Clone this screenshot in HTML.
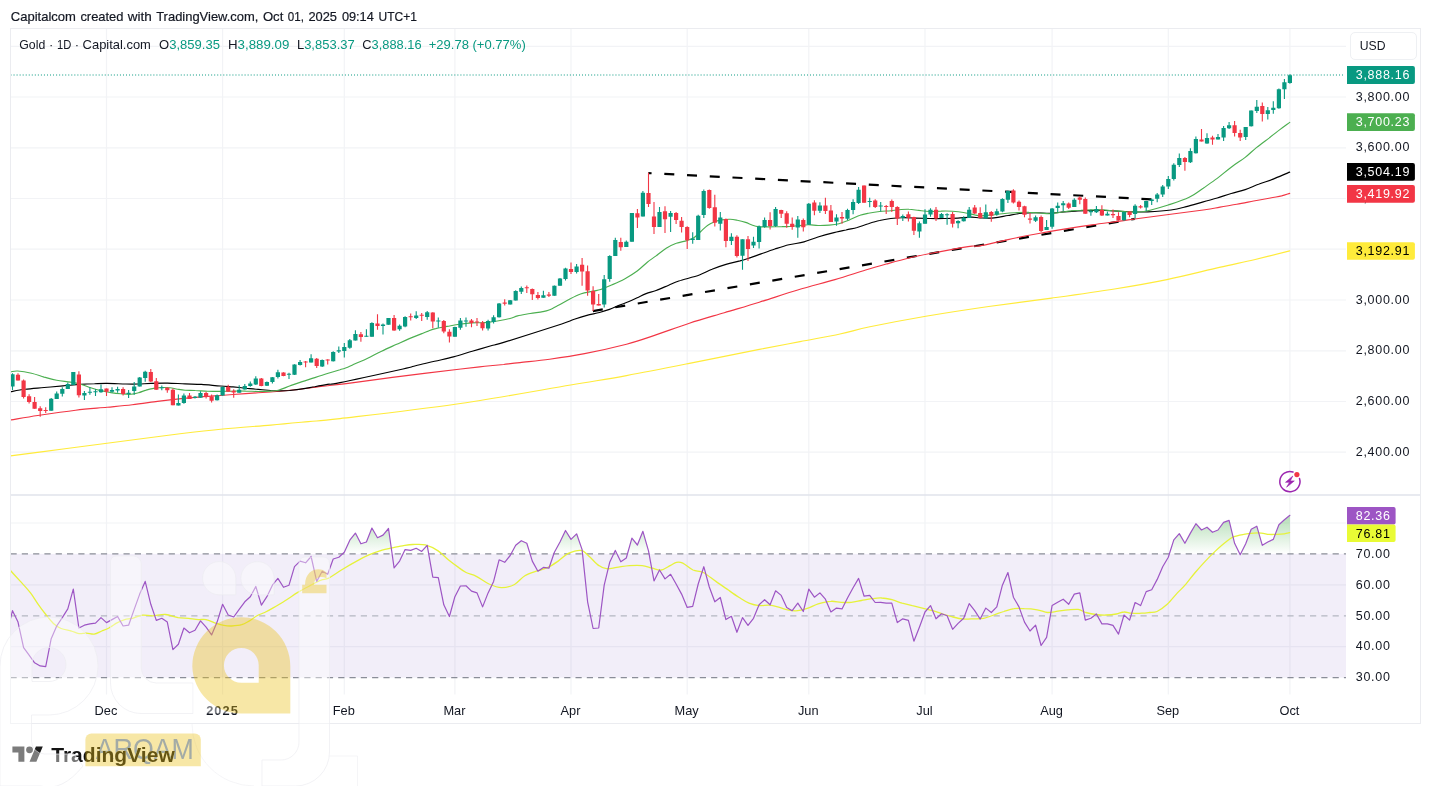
<!DOCTYPE html>
<html lang="en"><head><meta charset="utf-8"><title>Gold 1D - TradingView</title>
<style>html,body{margin:0;padding:0;background:#fff}body{width:1431px;height:786px;overflow:hidden;font-family:"Liberation Sans", Arial, Helvetica, sans-serif}svg{display:block}text{font-family:"Liberation Sans", Arial, Helvetica, sans-serif}</style>
</head><body>
<svg width="1431" height="786" viewBox="0 0 1431 786">
<defs>
<linearGradient id="ob" gradientUnits="userSpaceOnUse" x1="0" y1="461.1" x2="0" y2="553.9"><stop offset="0" stop-color="#4caf50" stop-opacity="1"/><stop offset="1" stop-color="#4caf50" stop-opacity="0"/></linearGradient>
<clipPath id="cpm"><rect x="10.5" y="28.5" width="1335.5" height="466.5"/></clipPath>
<clipPath id="cpr"><rect x="10.5" y="495.0" width="1335.5" height="200"/></clipPath>
<clipPath id="cp70"><rect x="10.5" y="495.0" width="1335.5" height="58.89999999999998"/></clipPath>
</defs>
<rect width="1431" height="786" fill="#fff"/>
<text y="21.2" font-size="13" fill="#131722" stroke="#131722" stroke-width="0.2"><tspan x="10.8" textLength="65.1" lengthAdjust="spacingAndGlyphs">Capitalcom</tspan> <tspan x="80.4" textLength="43.1" lengthAdjust="spacingAndGlyphs">created</tspan> <tspan x="127.7" textLength="24.0" lengthAdjust="spacingAndGlyphs">with</tspan> <tspan x="156.2" textLength="102.2" lengthAdjust="spacingAndGlyphs">TradingView.com,</tspan> <tspan x="262.9" textLength="20.4" lengthAdjust="spacingAndGlyphs">Oct</tspan> <tspan x="287.8" textLength="16.1" lengthAdjust="spacingAndGlyphs">01,</tspan> <tspan x="308.4" textLength="28.6" lengthAdjust="spacingAndGlyphs">2025</tspan> <tspan x="341.9" textLength="31.9" lengthAdjust="spacingAndGlyphs">09:14</tspan> <tspan x="378.6" textLength="38.4" lengthAdjust="spacingAndGlyphs">UTC+1</tspan></text>
<g stroke="#f2f3f6" stroke-width="1.2">
<line x1="10.5" y1="46.3" x2="1346.0" y2="46.3"/>
<line x1="10.5" y1="97" x2="1346.0" y2="97"/>
<line x1="10.5" y1="147.8" x2="1346.0" y2="147.8"/>
<line x1="10.5" y1="198.5" x2="1346.0" y2="198.5"/>
<line x1="10.5" y1="249.2" x2="1346.0" y2="249.2"/>
<line x1="10.5" y1="300" x2="1346.0" y2="300"/>
<line x1="10.5" y1="350.8" x2="1346.0" y2="350.8"/>
<line x1="10.5" y1="401.5" x2="1346.0" y2="401.5"/>
<line x1="10.5" y1="452.2" x2="1346.0" y2="452.2"/>
<line x1="10.5" y1="523" x2="1346.0" y2="523"/>
<line x1="10.5" y1="584.8" x2="1346.0" y2="584.8"/>
<line x1="10.5" y1="646.7" x2="1346.0" y2="646.7"/>
<line x1="106.5" y1="28.5" x2="106.5" y2="694.5"/>
<line x1="222.6" y1="28.5" x2="222.6" y2="694.5"/>
<line x1="344.3" y1="28.5" x2="344.3" y2="694.5"/>
<line x1="454.9" y1="28.5" x2="454.9" y2="694.5"/>
<line x1="571" y1="28.5" x2="571" y2="694.5"/>
<line x1="687.2" y1="28.5" x2="687.2" y2="694.5"/>
<line x1="808.8" y1="28.5" x2="808.8" y2="694.5"/>
<line x1="925" y1="28.5" x2="925" y2="694.5"/>
<line x1="1052.1" y1="28.5" x2="1052.1" y2="694.5"/>
<line x1="1168.3" y1="28.5" x2="1168.3" y2="694.5"/>
<line x1="1289.9" y1="28.5" x2="1289.9" y2="694.5"/>
</g>
<rect x="10.5" y="553.9" width="1335.5" height="123.7" fill="#7e57c2" fill-opacity="0.1"/>
<line x1="10.5" y1="553.9" x2="1346.0" y2="553.9" stroke="#8a8d98" stroke-width="1.3" stroke-dasharray="6.2 5.1"/>
<line x1="10.5" y1="615.8" x2="1346.0" y2="615.8" stroke="#b4b7c1" stroke-width="1.3" stroke-dasharray="6.2 5.1"/>
<line x1="10.5" y1="677.6" x2="1346.0" y2="677.6" stroke="#8a8d98" stroke-width="1.3" stroke-dasharray="6.2 5.1"/>
<g stroke="#000" stroke-width="2.2" fill="none" stroke-dasharray="10 12.75">
<line x1="1151.4" y1="199.3" x2="648.3" y2="173.1"/>
<line x1="592.9" y1="311.1" x2="1134.7" y2="218.9"/>
</g>
<g fill="none" stroke-width="1.15" stroke-linejoin="round" stroke-linecap="round" clip-path="url(#cpm)">
<path d="M10.5 455.9 C19.2 454.8 46.9 451.1 63 449 C79.1 446.9 87.5 445.7 107 443.2 C126.5 440.7 160.7 436.2 180 433.8 C199.3 431.4 207.8 430.4 222.9 429 C238 427.6 256.5 426.3 270.8 425.1 C285.1 423.9 297 422.7 308.5 421.6 C320 420.5 315.5 421.5 340 418.6 C364.5 415.7 416.9 409.9 455.3 404.3 C493.7 398.7 542.1 389.8 570.6 385 C599.1 380.2 606.7 379.2 626.5 375.6 C646.3 372 667.3 367.8 689.4 363.4 C711.5 359 740.9 353 759.3 349.4 C777.7 345.8 786.5 344.2 800 341.6 C813.5 339 828.4 336.5 840 334 C851.6 331.5 855.6 329.8 869.9 326.8 C884.2 323.9 906 319.7 925.8 316.3 C945.6 312.9 967.7 309.5 988.7 306.5 C1009.7 303.5 1030.6 301 1051.6 298.1 C1072.6 295.2 1095.3 292.1 1114.5 289 C1133.7 285.9 1149.4 283.2 1166.9 279.6 C1184.4 276 1204.8 270.7 1219.3 267.4 C1233.8 264.1 1242.5 262.4 1254.2 259.7 C1265.9 256.9 1283.8 252.4 1289.7 250.9" stroke="#ffeb3b"/>
<path d="M11.1 419.9 C15.5 419.2 27 417.1 37.8 415.5 C48.5 413.9 64 411.6 75.6 410.2 C87.1 408.8 97.6 408.2 107.1 407.3 C116.5 406.4 123.8 405.8 132.2 404.8 C140.6 403.8 151.1 402.2 157.4 401.4 C163.7 400.6 163.7 400.6 170 399.9 C176.3 399.2 186.8 398.1 195.2 397.4 C203.6 396.6 212 396.1 220.4 395.5 C228.8 394.9 237.2 394.2 245.6 393.6 C254 393 262.4 392.6 270.8 392 C279.2 391.3 287.5 390.7 295.9 389.8 C304.3 388.9 312.1 387.5 321.1 386.4 C330.1 385.3 338.1 384.7 350 383.1 C361.9 381.6 373.9 379.8 392.4 377.4 C410.9 375 445.5 370.8 460.9 369 C476.3 367.2 477.7 367.1 484.8 366.3 C492 365.6 497.9 365.1 503.7 364.5 C509.6 363.8 512.3 363.4 520 362.6 C527.6 361.7 538.8 360.7 549.6 359.2 C560.4 357.7 571.8 356.1 584.6 353.6 C597.4 351.1 614.9 347.2 626.5 344.2 C638.1 341.2 644 338.9 654.5 335.4 C665 331.9 677.8 327 689.4 323.2 C701 319.4 712.6 316.2 724.3 312.7 C735.9 309.2 747.1 306 759.3 302.2 C771.5 298.4 785.1 293.8 797.7 290 C810.3 286.2 823.6 282.9 834.9 279.6 C846.2 276.3 856.7 272.7 865.6 270 C874.4 267.3 880.7 265.6 888 263.6 C895.2 261.6 902 259.7 909 258 C916 256.3 923 254.9 930 253.5 C937 252.1 944 250.8 951 249.6 C957.9 248.3 967.1 246.7 971.9 246.1 C976.8 245.5 974 247 980 245.9 C986 244.8 998.7 241.6 1008 239.6 C1017.3 237.6 1026.7 235.7 1036 234 C1045.3 232.2 1054.6 230.6 1064 229.1 C1073.3 227.6 1082.6 226.2 1092 224.9 C1101.3 223.5 1110.6 222.4 1120 221.1 C1129.3 219.8 1134.1 219 1147.9 217.2 C1161.8 215.3 1191.2 211.7 1203.2 210 C1215.2 208.3 1214.4 208 1220 207.1 C1225.6 206.1 1231.2 205.3 1236.8 204.3 C1242.4 203.3 1248 202.1 1253.6 201 C1259.2 200 1265.7 198.8 1270.4 198 C1275 197.1 1278.3 196.6 1281.6 195.9 C1284.8 195.1 1288.3 193.8 1289.7 193.4" stroke="#f23645"/>
<path d="M11.1 391.6 C13.4 391.2 19.7 390 25.2 389.3 C30.7 388.6 37.8 388.1 44.1 387.5 C50.4 387 56.9 386.4 63 385.9 C69.1 385.4 75.4 384.7 80.6 384.4 C85.9 384 90.1 383.9 94.5 383.8 C98.9 383.6 101.8 383.3 107.1 383.4 C112.3 383.4 120.7 383.9 125.9 384 C131.2 384.1 134.3 384.1 138.5 384 C142.7 383.9 146.3 383.5 151.1 383.4 C156 383.2 161.8 383 167.5 383.1 C173.2 383.2 179.5 383.7 185.1 383.9 C190.8 384.1 195.6 384.1 201.5 384.4 C207.4 384.8 215.1 385.6 220.4 386 C225.6 386.5 228.8 386.6 233 386.9 C237.2 387.3 241.4 387.8 245.6 388.2 C249.8 388.6 254 389.1 258.2 389.4 C262.4 389.8 267.2 390.2 270.8 390.5 C274.3 390.7 276.4 390.8 279.6 390.8 C282.7 390.8 285.9 390.8 289.6 390.5 C293.4 390.1 298 389.6 302.2 388.9 C306.4 388.3 310.6 387.4 314.8 386.7 C319 385.9 323.2 385.1 327.4 384.4 C331.6 383.7 327.4 385.2 340 382.6 C352.6 380.1 390.4 371.8 403 369 C415.6 366.2 410.3 367 415.6 365.7 C420.8 364.4 428.2 362.8 434.5 361.3 C440.8 359.8 447.1 358.6 453.4 356.9 C459.6 355.2 465.9 353.1 472.2 351.2 C478.5 349.4 485.9 347.3 491.1 345.8 C496.4 344.3 492 346.1 503.7 342.4 C515.5 338.8 549.9 327.9 561.7 324 C573.4 320.1 570.1 320.6 574.3 319.2 C578.5 317.8 582.7 316.5 586.9 315.4 C591.1 314.3 595.7 313.5 599.5 312.5 C603.2 311.5 606.4 310.5 609.5 309.4 C612.7 308.2 615.2 306.9 618.4 305.6 C621.5 304.3 625.3 303.1 628.4 301.8 C631.6 300.5 634.3 299.2 637.2 297.8 C640.2 296.4 642.9 294.9 646.1 293.6 C649.2 292.4 652.4 291.9 656.1 290.5 C659.9 289.1 664.9 286.8 668.7 285.2 C672.5 283.6 673.7 282.7 678.8 281 C683.9 279.3 693.8 277 699.4 275 C704.9 273 707.5 271 712 269.3 C716.4 267.5 721.3 265.8 726 264.4 C730.6 263 735.8 262 740 260.9 C744.2 259.7 747.7 258.5 751.2 257.4 C754.7 256.2 757 255.3 761 253.9 C764.9 252.5 770.3 250.5 774.9 249 C779.6 247.5 784.1 246 788.9 244.8 C793.8 243.6 799.2 243.2 804 241.9 C808.8 240.6 813.3 238.4 818 237 C822.7 235.5 827.3 234.2 832 233.1 C836.7 231.9 841.8 230.9 846 230 C850.2 229 853.4 228.5 857.2 227.5 C860.9 226.4 864.6 224.8 868.4 223.7 C872.1 222.5 875.8 221.3 879.6 220.5 C883.3 219.6 887 219 890.8 218.5 C894.5 218 897.8 217.7 902 217.7 C906.2 217.6 911.3 217.9 916 218.1 C920.6 218.2 925.3 218.4 930 218.5 C934.6 218.6 939.3 218.6 944 218.5 C948.6 218.4 953.3 218.3 957.9 218.1 C962.6 217.8 968.3 217.1 971.9 217.1 C975.6 217.1 976.3 217.8 980 217.9 C983.7 218 989.3 218.3 994 217.9 C998.7 217.5 1003.3 216.3 1008 215.5 C1012.7 214.7 1017.3 213.7 1022 213.3 C1026.7 212.8 1031.3 212.7 1036 212.7 C1040.6 212.7 1045.3 213.4 1050 213.3 C1054.6 213.1 1059.3 212.3 1064 211.9 C1068.6 211.5 1073.3 211.1 1078 210.9 C1082.6 210.6 1087.3 210.5 1092 210.5 C1096.6 210.4 1101.3 210.3 1106 210.5 C1110.6 210.6 1115.3 211.1 1120 211.3 C1124.6 211.5 1129.3 211.8 1134 211.9 C1138.6 212 1141.8 212.2 1147.9 211.9 C1154.1 211.6 1164.6 210.9 1171 210 C1177.4 209.1 1181 208 1186.4 206.6 C1191.8 205.3 1198.1 203.3 1203.2 201.9 C1208.3 200.4 1212.5 199.4 1217.2 198 C1221.8 196.6 1226.5 194.9 1231.2 193.5 C1235.8 192.1 1240.5 191.2 1245.2 189.6 C1249.8 188 1254.5 185.7 1259.2 184 C1263.8 182.2 1268.1 181.1 1273.2 179.1 C1278.2 177.1 1286.9 173.2 1289.7 172.1" stroke="#000000"/>
<path d="M11.1 371.7 C12.2 371.6 14.2 370.8 17.6 371 C21 371.3 27.1 372.3 31.5 373.3 C35.9 374.3 39.9 375.9 44.1 377.1 C48.3 378.2 52.3 379.4 56.7 380.2 C61.1 381.1 66.5 381.4 70.5 382.1 C74.5 382.8 77.2 383.3 80.6 384.3 C84 385.2 87.3 386.7 90.7 387.8 C94 388.8 97.4 389.8 100.8 390.6 C104.1 391.4 107.5 392 110.8 392.6 C114.2 393.1 117.5 393.5 120.9 393.8 C124.3 394.1 128 394.5 131 394.3 C133.9 394.2 136 393.5 138.5 392.8 C141.1 392.1 143.6 390.8 146.1 390.1 C148.6 389.3 150.9 388.8 153.7 388.4 C156.4 388 159.7 387.6 162.5 387.5 C165.2 387.4 167.5 387.5 170 387.8 C172.5 388.1 175 388.8 177.6 389.2 C180.1 389.6 182.2 390 185.1 390.2 C188.1 390.4 191.4 390.3 195.2 390.5 C199 390.6 203.6 391.2 207.8 391.3 C212 391.5 216.2 391.4 220.4 391.3 C224.6 391.3 228.8 391.1 233 391.1 C237.2 391 241.4 391 245.6 391.1 C249.8 391.1 254 391.5 258.2 391.5 C262.4 391.5 267.4 391.3 270.8 391.1 C274.1 390.9 275.2 391 278.3 390.2 C281.5 389.4 285.7 387.5 289.6 386 C293.6 384.6 298 383 302.2 381.6 C306.4 380.2 310.6 379 314.8 377.6 C319 376.2 323.2 374.8 327.4 373.5 C331.6 372.1 337.1 370.5 340 369.7 C343 368.8 342.5 369.2 345 368.2 C347.6 367.3 351.3 365.5 355.1 363.8 C358.9 362.1 363.3 360.3 367.7 358.2 C372.1 356.1 376.7 353.5 381.6 351.2 C386.4 348.9 392.1 346.4 396.7 344.3 C401.3 342.2 405.1 340.4 409.3 338.6 C413.5 336.9 418.7 334.9 421.9 333.6 C425 332.3 425.9 331.9 428.2 331.1 C430.5 330.2 432.6 329.3 435.7 328.6 C438.9 327.8 443.1 327.2 447.1 326.4 C451 325.7 455.4 324.7 459.6 324.2 C463.8 323.6 468 323.1 472.2 322.9 C476.4 322.6 480.6 323 484.8 322.6 C489 322.3 493.2 321.7 497.4 321 C501.6 320.3 506.7 319.3 510 318.5 C513.4 317.6 514.2 316.8 517.6 315.9 C521 315.1 526 314.3 530.2 313.5 C534.4 312.8 539.6 312.2 542.8 311.6 C545.9 311.1 546.6 311 549.1 310 C551.6 309 554.7 307.3 557.9 305.6 C561 303.9 564.2 301.9 568 299.9 C571.8 298 576.4 295.5 580.6 294 C584.8 292.5 589.8 291.9 593.2 291.1 C596.5 290.4 597.6 290.5 600.7 289.5 C603.9 288.4 608.1 286.6 612.1 284.8 C616 283.1 620.4 281.2 624.6 278.9 C628.8 276.6 633.5 273.8 637.2 271 C641 268.2 644.2 264.7 647.3 262.2 C650.5 259.6 653 258.2 656.1 255.9 C659.3 253.5 662.9 250.4 666.2 248.3 C669.6 246.2 672.9 244.5 676.3 243.3 C679.7 242 683.9 241.5 686.8 240.6 C689.7 239.7 691.4 239.3 693.8 237.8 C696.1 236.3 698.4 233.6 700.8 231.5 C703.1 229.4 705.4 226.8 707.8 225.2 C710.1 223.5 712.4 222.6 714.8 221.7 C717.1 220.8 719.2 220.3 721.8 219.9 C724.3 219.5 727.6 219.2 730.2 219.3 C732.7 219.4 734.6 219.8 737.2 220.3 C739.7 220.8 743 221.6 745.6 222.4 C748.1 223.2 750.5 224.5 752.6 225.2 C754.7 225.9 755.6 226.3 758.2 226.6 C760.7 226.9 764 226.9 767.9 226.9 C771.9 226.9 778.3 226.6 781.9 226.6 C785.6 226.5 787.3 226.6 790 226.5 C792.7 226.3 795.4 226.1 798.4 225.8 C801.4 225.5 804.9 224.7 808.2 224.7 C811.5 224.6 814.5 225.4 818 225.5 C821.5 225.6 825.7 225.4 829.2 225.1 C832.7 224.8 835.7 224.5 839 223.7 C842.3 222.9 845.3 221.6 848.8 220.2 C852.3 218.8 856.7 216.4 860 215.3 C863.2 214.1 865.1 213.8 868.4 213.2 C871.6 212.6 875.8 211.9 879.6 211.5 C883.3 211.1 887.5 211 890.8 210.7 C894 210.4 896.1 209.9 899.2 209.7 C902.2 209.5 905.7 209.1 909 209.3 C912.2 209.4 915.3 210 918.8 210.4 C922.3 210.8 926.2 211.4 930 211.5 C933.7 211.6 937.4 211.1 941.2 211.1 C944.9 211 948.6 211 952.4 211.2 C956.1 211.5 959.8 211.9 963.5 212.5 C967.3 213.1 972 214.3 974.7 214.9 C977.5 215.4 977.3 215.7 980 215.8 C982.7 215.8 987.5 215.4 991.2 215.1 C994.9 214.7 998.4 214.1 1002.4 213.7 C1006.4 213.3 1010.6 212.9 1015 212.7 C1019.4 212.5 1024.8 212.2 1029 212.3 C1033.2 212.3 1036.7 212.7 1040.2 213 C1043.7 213.2 1046.5 213.8 1050 213.7 C1053.5 213.6 1057.7 212.7 1061.2 212.3 C1064.7 211.8 1067.7 211.2 1071 210.9 C1074.2 210.5 1077.3 210.3 1080.8 210.2 C1084.3 210 1088.2 209.9 1092 209.9 C1095.7 209.9 1099.4 209.7 1103.2 209.9 C1106.9 210.1 1110.6 210.6 1114.4 210.9 C1118.1 211.2 1121.8 211.4 1125.6 211.6 C1129.3 211.7 1133.5 211.9 1136.8 211.9 C1140 211.8 1139.9 212.5 1145.2 211.3 C1150.4 210.2 1160.9 207.3 1168.2 205 C1175.5 202.6 1183.4 200.1 1189.2 197.3 C1195 194.5 1198.5 191.3 1203.2 188.2 C1207.8 185 1212.5 181.9 1217.2 178.4 C1221.8 174.9 1226.5 170.7 1231.2 167.2 C1235.8 163.7 1241 160.6 1245.2 157.4 C1249.4 154.1 1252.4 150.8 1256.4 147.6 C1260.3 144.4 1265 141.1 1269 138.1 C1272.9 135 1276.7 132 1280.2 129.4 C1283.6 126.8 1288.1 123.6 1289.7 122.4" stroke="#4caf50"/>
</g>
<g clip-path="url(#cpm)">
<path d="M12.5 373.3V390.1M51.2 397.9V410.8M56.7 391.6V398.9M62.3 387.2V396.6M67.8 382.5V389M73.3 372V385M84.4 390.9V400M89.9 387.2V394.7M95.5 389V396M101 384.6V392.8M112 387.2V392.8M117.6 386.8V392.8M128.6 390.1V398.1M134.2 382.1V394.7M139.7 377.1V386.5M145.2 370.8V381.7M161.8 385.5V390.3M178.4 394.5V405.6M183.9 393.6V403.7M195 396.1V398.6M200.5 391.3V397.8M217.1 394.5V400.5M222.6 386.4V395.7M239.2 385.2V392.7M244.8 383.9V389.4M250.3 381.6V386.7M255.8 376.3V385M266.9 381.6V386M272.4 376.9V383.5M277.9 369.7V378.5M289 372.8V378.9M294.5 364.3V375M300.1 360V365.6M311.1 354.2V362.5M322.2 359.6V366.9M333.2 351.2V361.5M338.8 346.4V353M344.3 343V357.5M349.8 339V348.7M355.4 330.2V340.5M366.4 329.2V336.8M371.9 322.3V336.8M383 323.5V334.5M388.5 318.1V324.8M399.6 324.4V330.8M405.1 316.3V327.3M416.2 311.3V318.9M427.2 310.9V319.7M438.3 317.6V327.7M454.9 326.7V336.8M460.4 318.1V329.8M466 317.6V326.7M488.1 319.7V330.5M493.6 315.3V323.5M499.1 303V317.6M510.2 299.9V304.6M515.7 290.2V300.6M521.3 286.5V294M543.4 290.7V297.8M554.4 285.5V295.8M560 277.9V285.8M565.5 267.8V280.4M576.6 264V273.5M604.2 275.1V307.5M609.7 255.2V281.7M615.3 237.8V256M626.3 240.6V246.9M631.9 212.9V241.7M642.9 190.9V216.5M659.5 207V226.9M670.6 210.9V231.9M692.7 232.2V243.7M698.2 214.7V239.9M703.8 189.5V217.9M720.3 211.9V230.5M731.4 233.2V245.1M742.5 239.2V269.7M753.5 236.7V247.9M759.1 225.5V248.6M764.6 217.5V227.7M775.6 207V226.9M797.8 216V237.7M808.8 203.1V224.7M819.9 202.3V212.9M836.5 214.3V225.8M847.5 208.7V220.2M853.1 199.2V214.3M858.6 186.9V204.1M869.7 197.8V207.3M880.7 202V211.5M902.8 214.6V220.9M919.4 221.6V237.7M925 209.3V223.7M930.5 208.3V216.7M941.5 212.9V218.1M947.1 213.2V224.7M958.1 220.2V228.2M963.7 216.3V221.6M969.2 206.9V218.1M985.8 204.6V218.6M996.8 208.8V215.8M1002.4 198.3V212.3M1007.9 190.6V202.9M1035.6 215.5V222.1M1046.6 220V230.1M1052.1 208.1V228.7M1057.7 202.5V212.3M1063.2 201.1V210.9M1074.3 198.3V207.1M1090.9 209.5V215.8M1096.4 206V213M1107.4 211.6V215.5M1124 211.6V220.7M1135.1 204.3V218.6M1146.2 200.7V210.9M1151.7 198.7V205M1157.2 193.1V202.2M1162.7 185.1V196.9M1168.3 175.9V188.9M1173.8 163.3V180.5M1179.3 153.5V166.9M1190.4 148.3V163M1195.9 136.4V153.5M1207 133.3V143.7M1218 133.9V139.6M1223.6 125.9V140.9M1229.1 122.1V129.1M1245.7 126.9V139.9M1251.2 110.5V126.6M1256.8 100.1V113.1M1267.8 107.1V119.4M1273.3 101.3V113.8M1278.9 88.5V108.7M1284.4 79.1V99.1M1289.9 74.2V83.8" stroke="#089981" stroke-width="1.1" fill="none"/>
<path d="M10.4 374.3h4.2V386.5h-4.2zM49.1 398.7h4.2V410.8h-4.2zM54.6 393.5h4.2V398.9h-4.2zM60.2 389h4.2V393.8h-4.2zM65.7 384h4.2V389h-4.2zM71.2 372h4.2V385h-4.2zM82.3 393.1h4.2V395.6h-4.2zM87.8 391.8h4.2V392.8h-4.2zM93.4 391.3h4.2V392.3h-4.2zM98.9 389.3h4.2V392.2h-4.2zM109.9 390.1h4.2V391.8h-4.2zM115.5 389h4.2V390.6h-4.2zM126.5 392.8h4.2V394.1h-4.2zM132.1 386.5h4.2V390.9h-4.2zM137.6 377.5h4.2V386.5h-4.2zM143.1 371.7h4.2V378h-4.2zM159.7 387.2h4.2V388.2h-4.2zM176.3 403h4.2V405.6h-4.2zM181.8 395.5h4.2V403h-4.2zM192.9 396.8h4.2V398h-4.2zM198.4 393h4.2V397.8h-4.2zM215 395.2h4.2V400.3h-4.2zM220.5 386.9h4.2V395.5h-4.2zM237.1 389.8h4.2V392.7h-4.2zM242.7 386h4.2V389.4h-4.2zM248.2 383.5h4.2V386h-4.2zM253.7 378.5h4.2V384.4h-4.2zM264.8 381.9h4.2V385.7h-4.2zM270.3 377.2h4.2V381.9h-4.2zM275.8 372.2h4.2V376.9h-4.2zM286.9 373.7h4.2V374.7h-4.2zM292.4 364.6h4.2V374.7h-4.2zM298 361.9h4.2V365h-4.2zM309 358.3h4.2V362.4h-4.2zM320.1 360h4.2V366.5h-4.2zM331.1 352h4.2V361.2h-4.2zM336.7 350.2h4.2V351.4h-4.2zM342.2 347.1h4.2V350.9h-4.2zM347.7 340.3h4.2V347.8h-4.2zM353.3 334h4.2V340.5h-4.2zM364.3 335.7h4.2V336.8h-4.2zM369.8 323.1h4.2V336.8h-4.2zM380.9 324.4h4.2V326h-4.2zM386.4 318.1h4.2V324.8h-4.2zM397.5 325.7h4.2V329.2h-4.2zM403 316.9h4.2V326.4h-4.2zM414.1 315.6h4.2V317.9h-4.2zM425.1 312.2h4.2V316.9h-4.2zM436.2 320.6h4.2V321.6h-4.2zM452.8 326.9h4.2V336.8h-4.2zM458.3 320.6h4.2V327.7h-4.2zM463.9 320.4h4.2V321.4h-4.2zM486 321h4.2V328.6h-4.2zM491.5 317.2h4.2V321.9h-4.2zM497 303.4h4.2V317.2h-4.2zM508.1 300.3h4.2V304.6h-4.2zM513.6 291.1h4.2V300.6h-4.2zM519.2 288h4.2V291.8h-4.2zM541.3 295.3h4.2V297.8h-4.2zM552.3 285.8h4.2V295.8h-4.2zM557.9 278.5h4.2V285.8h-4.2zM563.4 268.5h4.2V278.9h-4.2zM574.5 266.6h4.2V271.9h-4.2zM602.1 279.2h4.2V304.6h-4.2zM607.6 255.9h4.2V278.9h-4.2zM613.2 239.9h4.2V256h-4.2zM624.2 241.7h4.2V246.9h-4.2zM629.8 212.9h4.2V241.7h-4.2zM640.8 192.7h4.2V216.5h-4.2zM657.4 211.9h4.2V226.9h-4.2zM668.5 212.9h4.2V216.8h-4.2zM690.6 238.5h4.2V239.9h-4.2zM696.1 215.7h4.2V239.9h-4.2zM701.6 190.9h4.2V215.1h-4.2zM718.2 217.5h4.2V223.8h-4.2zM729.3 236.7h4.2V241h-4.2zM740.4 239.2h4.2V255.7h-4.2zM751.4 241.7h4.2V245.5h-4.2zM757 226.6h4.2V242h-4.2zM762.5 220h4.2V226.9h-4.2zM773.5 209.1h4.2V225.9h-4.2zM795.7 219.5h4.2V227.6h-4.2zM806.7 203.7h4.2V224.7h-4.2zM817.8 205.5h4.2V210.7h-4.2zM834.4 217.4h4.2V221.6h-4.2zM845.4 210.1h4.2V218.8h-4.2zM851 202h4.2V210.1h-4.2zM856.5 189.7h4.2V203.1h-4.2zM867.6 200.9h4.2V201.9h-4.2zM878.6 205.5h4.2V206.5h-4.2zM900.7 216h4.2V217.7h-4.2zM917.3 223.3h4.2V231.4h-4.2zM922.9 214.6h4.2V223.7h-4.2zM928.4 209.7h4.2V214.6h-4.2zM939.4 213.9h4.2V218.1h-4.2zM945 214.3h4.2V215.3h-4.2zM956 220.9h4.2V223.3h-4.2zM961.6 217.7h4.2V221.2h-4.2zM967.1 209.7h4.2V218.1h-4.2zM983.7 212.3h4.2V218.6h-4.2zM994.7 211.3h4.2V214.4h-4.2zM1000.3 199h4.2V211.6h-4.2zM1005.8 190.9h4.2V199.7h-4.2zM1033.5 217.2h4.2V220.7h-4.2zM1044.5 227h4.2V230.1h-4.2zM1050 208.5h4.2V226.7h-4.2zM1055.6 205.7h4.2V208.1h-4.2zM1061.1 203.2h4.2V205.3h-4.2zM1072.2 199.7h4.2V207.1h-4.2zM1088.8 210.9h4.2V212.3h-4.2zM1094.3 209.1h4.2V212.3h-4.2zM1105.3 213.7h4.2V215.5h-4.2zM1121.9 211.9h4.2V220.3h-4.2zM1133 205.7h4.2V214.1h-4.2zM1144.1 201.1h4.2V207.4h-4.2zM1149.6 199.4h4.2V201h-4.2zM1155.1 194.5h4.2V198.7h-4.2zM1160.6 186.5h4.2V194.5h-4.2zM1166.2 179.1h4.2V186.5h-4.2zM1171.7 164.7h4.2V179.1h-4.2zM1177.2 158.1h4.2V165.1h-4.2zM1188.3 151.1h4.2V162.3h-4.2zM1193.8 138.9h4.2V153.2h-4.2zM1204.9 138.1h4.2V143.4h-4.2zM1215.9 137.1h4.2V139.6h-4.2zM1221.5 128h4.2V137.5h-4.2zM1227 125.2h4.2V128.3h-4.2zM1243.6 126.9h4.2V137.1h-4.2zM1249.1 110.5h4.2V126.3h-4.2zM1254.7 106.8h4.2V111h-4.2zM1265.7 110.3h4.2V114.1h-4.2zM1271.2 107.8h4.2V109.9h-4.2zM1276.8 89.2h4.2V108.2h-4.2zM1282.3 82.3h4.2V89.3h-4.2zM1287.8 75.2h4.2V82.9h-4.2z" fill="#089981"/>
<path d="M18 373.3V380.6M23.6 379.6V398.5M29.1 394.3V403.5M34.6 396.9V408.8M40.2 406.3V416.8M45.7 407.3V413M78.9 371.2V397.6M106.5 388.4V396M123.1 387.2V395.6M150.8 369.1V382.1M156.3 378V389.7M167.3 387.2V392.8M172.9 388.4V405.2M189.5 393V399M206.1 391.7V398.6M211.6 394.5V402.4M228.2 384.8V391.7M233.7 389.2V397.8M261.4 377.9V386.3M283.5 372.2V376.3M305.6 360.9V367.2M316.7 358V368M327.7 359.2V364.6M360.9 332V341.8M377.5 314.3V329.8M394.1 315.1V330.7M410.7 313.5V320.6M421.7 313.1V321M432.8 312.2V328.2M443.8 320.1V333.2M449.4 329.2V342.4M471.5 318.9V327.3M477 317.9V326M482.6 321V330.5M504.7 299.2V305.6M526.8 285.5V293M532.3 288.6V299.9M537.9 292V299.6M548.9 292V297M571 262.5V274.1M582.1 258V285.7M587.6 265.6V295.8M593.1 286.3V310.9M598.7 294V305.6M620.8 237.8V250.7M637.4 209.1V228M648.5 172.7V207M654 202.1V233.9M665 206.3V232.9M676.1 211.9V224.1M681.6 217.1V232.5M687.2 226.3V249M709.3 189.5V208.7M714.8 194.7V226.6M725.9 218.5V247.3M736.9 235.3V257.4M748 236.1V260.9M770.1 212.3V229.4M781.2 209.8V217.9M786.7 211.2V227.7M792.2 217.4V229.7M803.3 218.5V231.4M814.4 200.3V215.3M825.4 197.8V213.9M830.9 205.1V221.9M842 212.1V223.7M864.1 185.5V202.7M875.2 199.2V207.9M886.2 205.1V213.9M891.8 199.5V212.1M897.3 206.2V225.1M908.4 211.5V221.6M913.9 216.7V234.9M936 206.9V220.9M952.6 212.1V227.5M974.7 205.1V213.9M980.2 207.3V218.5M991.3 210.9V221.7M1013.4 189.2V203.5M1019 200.4V210.5M1024.5 205.7V217.2M1030 213V223.5M1041.1 215.5V231.9M1068.7 202.5V209.1M1079.8 196.2V204.3M1085.3 197.6V213.7M1101.9 205.3V216.1M1113 209.5V217.9M1118.5 212.3V220.7M1129.6 210.9V217.2M1140.6 204.9V208.5M1184.9 157.1V170.7M1201.5 129.1V141.4M1212.5 135.7V144.8M1234.6 121V136.4M1240.2 129.7V140.9M1262.3 102.4V121.5" stroke="#f23645" stroke-width="1.1" fill="none"/>
<path d="M15.9 374.8h4.2V380.6h-4.2zM21.5 380.6h4.2V396.9h-4.2zM27 396.3h4.2V401.9h-4.2zM32.5 401.9h4.2V408.8h-4.2zM38.1 408.2h4.2V411.1h-4.2zM43.6 410.1h4.2V411.1h-4.2zM76.8 374.6h4.2V395.3h-4.2zM104.4 388.4h4.2V391.8h-4.2zM121 389h4.2V394.1h-4.2zM148.7 372h4.2V381.5h-4.2zM154.2 381.2h4.2V389.7h-4.2zM165.2 387.8h4.2V390.3h-4.2zM170.8 389.7h4.2V405.2h-4.2zM187.4 395.5h4.2V399h-4.2zM204 393h4.2V396.8h-4.2zM209.5 396.5h4.2V400.8h-4.2zM226.1 386.7h4.2V391.7h-4.2zM231.6 390.8h4.2V392.6h-4.2zM259.2 378.5h4.2V386h-4.2zM281.4 372.4h4.2V376h-4.2zM303.5 361.5h4.2V362.5h-4.2zM314.6 358.7h4.2V365.9h-4.2zM325.6 359.6h4.2V360.6h-4.2zM358.8 334.2h4.2V337h-4.2zM375.4 323.5h4.2V326h-4.2zM392 318.1h4.2V330.5h-4.2zM408.6 316.3h4.2V317.3h-4.2zM419.6 314.7h4.2V315.7h-4.2zM430.7 312.6h4.2V321.6h-4.2zM441.7 321h4.2V331.5h-4.2zM447.3 331.7h4.2V336.5h-4.2zM469.4 320.6h4.2V322.9h-4.2zM474.9 321.4h4.2V322.4h-4.2zM480.4 322.6h4.2V328.2h-4.2zM502.6 302.5h4.2V303.8h-4.2zM524.7 287.3h4.2V288.3h-4.2zM530.2 289h4.2V294.3h-4.2zM535.8 294.9h4.2V298h-4.2zM546.8 294.5h4.2V295.8h-4.2zM568.9 269.1h4.2V271.9h-4.2zM580 264.7h4.2V271.6h-4.2zM585.5 271.3h4.2V290.5h-4.2zM591 291.1h4.2V304.6h-4.2zM596.6 304.1h4.2V305.6h-4.2zM618.7 242h4.2V247.3h-4.2zM635.3 213.3h4.2V217.5h-4.2zM646.4 193h4.2V203.9h-4.2zM651.9 216.5h4.2V226.9h-4.2zM662.9 211.2h4.2V219.3h-4.2zM674 212.9h4.2V219.9h-4.2zM679.5 220.7h4.2V226.9h-4.2zM685.1 226.9h4.2V240.3h-4.2zM707.2 189.9h4.2V208.1h-4.2zM712.7 207.3h4.2V222.7h-4.2zM723.8 218.9h4.2V241h-4.2zM734.8 236.7h4.2V256h-4.2zM745.9 239.2h4.2V249h-4.2zM768 220h4.2V225.9h-4.2zM779.1 210.1h4.2V213.7h-4.2zM784.6 213.3h4.2V223.8h-4.2zM790.1 223.7h4.2V226.9h-4.2zM801.2 219.9h4.2V227.2h-4.2zM812.2 202.4h4.2V210.7h-4.2zM823.3 205.5h4.2V211.1h-4.2zM828.8 210.4h4.2V221.9h-4.2zM839.9 217.1h4.2V218.5h-4.2zM862 185.5h4.2V202.7h-4.2zM873.1 200.6h4.2V206.9h-4.2zM884.1 205.9h4.2V206.9h-4.2zM889.7 200.9h4.2V206.9h-4.2zM895.2 206.9h4.2V218.5h-4.2zM906.3 214.3h4.2V217.7h-4.2zM911.8 217.1h4.2V230.7h-4.2zM933.9 209.7h4.2V218.5h-4.2zM950.5 213.9h4.2V223.7h-4.2zM972.6 207.6h4.2V213.5h-4.2zM978.1 212.9h4.2V218.1h-4.2zM989.2 211.9h4.2V215.8h-4.2zM1011.3 190.6h4.2V202.5h-4.2zM1016.9 201.8h4.2V207.1h-4.2zM1022.4 206.3h4.2V214.7h-4.2zM1027.9 218.6h4.2V219.7h-4.2zM1039 216.9h4.2V230.9h-4.2zM1066.6 203.5h4.2V207.7h-4.2zM1077.7 197.6h4.2V199.7h-4.2zM1083.2 199h4.2V213.7h-4.2zM1099.8 209.9h4.2V215.5h-4.2zM1110.9 214.1h4.2V215.2h-4.2zM1116.4 216.1h4.2V220.3h-4.2zM1127.5 211.6h4.2V215.1h-4.2zM1138.5 206.3h4.2V207.4h-4.2zM1182.8 158.1h4.2V161.9h-4.2zM1199.4 139.5h4.2V141.4h-4.2zM1210.4 137.5h4.2V139.5h-4.2zM1232.5 125.2h4.2V132.9h-4.2zM1238.1 132.9h4.2V137.5h-4.2zM1260.2 106.1h4.2V114.1h-4.2z" fill="#f23645"/>
</g>
<line x1="10.5" y1="75.05" x2="1344.6" y2="75.05" stroke="#089981" stroke-width="1.1" stroke-dasharray="1 2.04"/>
<path d="M10.6 553.9 L10.6 618.3 L12.5 610.7 L18 622.1 L23.6 647.6 L29.1 655.2 L34.6 662.8 L40.2 665.9 L45.7 666.7 L51.2 638.7 L56.7 626 L62.3 617.6 L67.8 608.9 L73.3 589.1 L78.9 628 L84.4 625.2 L89.9 623.9 L95.5 623.2 L101 617.6 L106.5 622.6 L112 619.6 L117.6 616.5 L123.1 626 L128.6 625.2 L134.2 609.4 L139.7 594.1 L145.2 581.4 L150.8 604.3 L156.3 620.4 L161.8 618.3 L167.3 622.1 L172.9 649.6 L178.4 644.3 L183.9 628 L189.5 632.8 L195 630.3 L200.5 620.9 L206.1 627.2 L211.6 634.9 L217.1 622.1 L222.6 604.3 L228.2 615 L233.7 617 L239.2 609.4 L244.8 601.8 L250.3 596.7 L255.8 586.5 L261.4 605.1 L266.9 596.7 L272.4 585.2 L277.9 578.4 L283.5 587.3 L289 585.2 L294.5 566.7 L300.1 561.1 L305.6 562.8 L311.1 556.5 L316.7 581.4 L322.2 571.2 L327.7 574.3 L333.2 559 L338.8 557.3 L344.3 552.2 L349.8 540.2 L355.4 533.1 L360.9 543.8 L366.4 542 L371.9 528 L377.5 537.7 L383 535.1 L388.5 528.5 L394.1 567.9 L399.6 561.1 L405.1 549.6 L410.7 550.4 L416.2 548.3 L421.7 551.4 L427.2 545.3 L432.8 577.1 L438.3 577.6 L443.8 604.8 L449.4 616.5 L454.9 596.7 L460.4 586 L466 585.8 L471.5 591.1 L477 592.9 L482.6 606.9 L488.1 592.9 L493.6 581.4 L499.1 559.8 L504.7 562.3 L510.2 555.5 L515.7 545.3 L521.3 540.7 L526.8 543.3 L532.3 561.1 L537.9 571.2 L543.4 567.4 L548.9 568.2 L554.4 552.2 L560 542 L565.5 530.5 L571 539.4 L576.6 533.8 L582.1 549.6 L587.6 601.8 L593.1 628.5 L598.7 628 L604.2 585.2 L609.7 562.3 L615.3 550.4 L620.8 561.8 L626.3 558 L631.9 538.2 L637.4 545 L642.9 531.3 L648.5 550.9 L654 580.9 L659.5 570 L665 578.9 L670.6 574.3 L676.1 584 L681.6 594.1 L687.2 607.4 L692.7 606.4 L698.2 584 L703.8 566.7 L709.3 587 L714.8 601.8 L720.3 597.5 L725.9 619.6 L731.4 616.3 L736.9 632.3 L742.5 617.6 L748 625.4 L753.5 618.3 L759.1 604.8 L764.6 599.7 L770.1 604.8 L775.6 590.8 L781.2 595.4 L786.7 607.4 L792.2 610.7 L797.8 603.1 L803.3 611.5 L808.8 589.1 L814.4 597.2 L819.9 592.9 L825.4 599.2 L830.9 612 L836.5 608.1 L842 608.9 L847.5 598 L853.1 587.8 L858.6 578.4 L864.1 596.2 L869.7 595.4 L875.2 602.5 L880.7 602.3 L886.2 603.1 L891.8 603.1 L897.3 622.6 L902.8 618.8 L908.4 620.4 L913.9 641.2 L919.4 627.2 L925 612 L930.5 605.6 L936 618.8 L941.5 613.7 L947.1 615.8 L952.6 629.3 L958.1 623.4 L963.7 618.3 L969.2 603.6 L974.7 610.7 L980.2 619.1 L985.8 608.1 L991.3 612.5 L996.8 606.9 L1002.4 585.2 L1007.9 572.5 L1013.4 597.2 L1019 606.9 L1024.5 622.1 L1030 631 L1035.6 625.2 L1041.1 645.5 L1046.6 637.4 L1052.1 605.6 L1057.7 602.3 L1063.2 599.2 L1068.7 604.3 L1074.3 594.1 L1079.8 592.9 L1085.3 620.1 L1090.9 618.3 L1096.4 614 L1101.9 623.9 L1107.4 623.9 L1113 625.4 L1118.5 634.1 L1124 615 L1129.6 620.1 L1135.1 602.5 L1140.6 605.6 L1146.2 591.6 L1151.7 589.8 L1157.2 579.4 L1162.7 566.7 L1168.3 557.3 L1173.8 539.9 L1179.3 533.6 L1184.9 543.3 L1190.4 533.1 L1195.9 523.7 L1201.5 530 L1207 527.2 L1212.5 532.3 L1218 530 L1223.6 522.4 L1229.1 520.4 L1234.6 543.3 L1240.2 554.7 L1245.7 543.8 L1251.2 529.3 L1256.8 526.2 L1262.3 545.3 L1267.8 542 L1273.3 539.4 L1278.9 524.7 L1284.4 519.8 L1289.9 515.3 L1289.9 553.9 Z" fill="url(#ob)" clip-path="url(#cp70)"/>
<g fill="none" stroke-linejoin="round" stroke-linecap="round" clip-path="url(#cpr)">
<path d="M10.7 570.7 C12.3 572.5 17 577.7 20.4 581.4 C23.7 585.1 27.6 589.1 30.5 592.9 C33.5 596.7 35.6 600.7 38.2 604.3 C40.7 607.9 43.3 611.3 45.8 614.5 C48.3 617.7 50.9 621.1 53.4 623.4 C56 625.7 58.1 627.2 61.1 628.5 C64 629.8 68.3 630.2 71.2 631 C74.2 631.9 76.3 633.2 78.9 633.6 C81.4 633.9 84 633 86.5 633.1 C89.1 633.2 91.6 634.4 94.1 634.1 C96.7 633.8 99.2 632.1 101.8 631 C104.3 630 106.9 629.1 109.4 627.7 C112 626.4 114.5 624.3 117 622.9 C119.6 621.5 122.1 620.4 124.7 619.6 C127.2 618.8 129.3 619.1 132.3 618.3 C135.3 617.6 139.1 615.6 142.5 615.1 C145.9 614.7 148.9 615.9 152.7 615.8 C156.5 615.7 161.2 614.2 165.4 614.5 C169.6 614.8 174.3 616.9 178.1 617.6 C181.9 618.2 184.9 618 188.3 618.3 C191.7 618.7 195.5 619.4 198.5 619.6 C201.4 619.8 203.1 619 206.1 619.6 C209.1 620.2 213.3 622.4 216.3 623.4 C219.3 624.4 221.4 625 223.9 625.4 C226.5 625.9 228.6 626.1 231.6 626 C234.5 625.8 238.8 625.5 241.7 624.7 C244.7 623.8 246.8 622.3 249.4 620.9 C251.9 619.4 254.5 617.2 257 615.8 C259.5 614.4 262 613.7 264.6 612.5 C267.3 611.2 269.3 610.1 272.7 608.1 C276.2 606.1 281.2 603.2 285.4 600.5 C289.7 597.8 293.9 594.7 298.2 592.1 C302.4 589.6 307.1 587.2 310.9 585.2 C314.7 583.2 318.1 581.3 321.1 580.2 C324 579 325.3 579.8 328.7 578.1 C332.1 576.4 336.8 572.8 341.4 570 C346.1 567.1 352 563.6 356.7 561.1 C361.4 558.5 365.2 556.5 369.4 554.7 C373.7 552.9 378.3 551.3 382.1 550.1 C386 549 388.9 548.6 392.3 547.8 C395.7 547.1 399.1 546.4 402.5 545.8 C405.9 545.3 408.9 544.7 412.7 544.5 C416.5 544.4 421.2 543.9 425.4 544.9 C429.6 546 434.3 548.4 438.1 550.9 C441.9 553.4 444.9 557 448.3 559.8 C451.7 562.6 455.5 565.3 458.5 567.4 C461.4 569.6 463.1 571 466.1 572.5 C469.1 574 472.5 574.4 476.3 576.3 C480.1 578.2 484.8 582.1 489 584 C493.2 585.9 497.5 587.6 501.7 587.7 C506 587.7 510.6 586.5 514.5 584.5 C518.3 582.5 521 578 524.9 575.7 C528.8 573.4 534 572.1 537.8 570.7 C541.7 569.4 544.6 569 548 567.4 C551.4 565.8 554.8 563.4 558.2 561.1 C561.6 558.7 564.5 555.2 568.3 553.4 C572.2 551.7 577.7 550 581.1 550.4 C584.5 550.8 585.7 553.4 588.7 556 C591.7 558.5 595.9 563.5 598.9 565.6 C601.8 567.8 603.5 568.4 606.5 568.7 C609.5 569 612.9 567.9 616.7 567.4 C620.5 566.9 625.2 565.9 629.4 565.6 C633.7 565.4 638.3 565.2 642.1 565.6 C646 566.1 649.1 567.5 652.3 568.2 C655.5 568.9 658.3 570.4 661.2 570 C664.2 569.6 667.6 566.9 670.1 565.6 C672.7 564.4 674.4 562.8 676.5 562.3 C678.6 561.9 680.1 561.8 682.8 563.1 C685.6 564.4 689.6 568.4 693 570 C696.4 571.5 699.4 570.6 703.2 572.5 C707 574.4 711.7 578.5 715.9 581.4 C720.2 584.4 724.8 587.7 728.7 590.3 C732.5 593 735.4 595.1 738.8 597.2 C742.2 599.3 745.6 601.7 749 603.1 C752.4 604.5 755.8 605.3 759.2 605.6 C762.6 605.9 766 604.8 769.4 605.1 C772.8 605.4 776.5 606.6 779.5 607.4 C782.6 608.2 784.6 609.4 787.6 609.9 C790.7 610.5 794.4 611 797.8 610.7 C801.2 610.4 804.6 609.3 808 608.1 C811.4 607 814.4 605 818.2 603.8 C822 602.7 827.1 601.5 830.9 601.3 C834.7 601 837.7 602.1 841.1 602.3 C844.5 602.5 847.9 602.6 851.2 602.3 C854.6 602 858 601.1 861.4 600.5 C864.8 599.9 868.2 599.2 871.6 598.7 C875 598.3 878.4 597.8 881.8 598 C885.2 598.1 888.6 598.9 892 599.7 C895.4 600.6 898.7 602.1 902.1 603.1 C905.5 604 908.9 604.7 912.3 605.6 C915.7 606.4 919.1 607.3 922.5 608.1 C925.9 609 929.3 609.7 932.7 610.7 C936.1 611.7 939.5 612.9 942.8 614 C946.2 615.1 949.6 616.2 953 617 C956.4 617.9 959.8 618.8 963.2 619.1 C966.6 619.4 970 619 973.4 618.8 C976.8 618.7 980.2 619 983.6 618.3 C987 617.7 990.3 616.2 993.7 615 C997.1 613.9 1000.5 612.5 1003.9 611.5 C1007.3 610.4 1010.7 609.1 1014.1 608.7 C1017.5 608.2 1020.4 608.5 1024.3 608.7 C1028.1 608.8 1033.3 609.2 1037.2 609.8 C1041.1 610.4 1044.2 612.2 1047.6 612.5 C1051.1 612.7 1054.4 611.6 1057.8 611.2 C1061.2 610.8 1064.6 610.2 1068 609.9 C1071.4 609.6 1075.2 609 1078.2 609.4 C1081.1 609.8 1082.8 611.6 1085.8 612.5 C1088.8 613.3 1092.6 614.1 1096 614.5 C1099.4 614.9 1102.8 615.1 1106.2 615 C1109.6 614.9 1113.4 614.5 1116.3 614 C1119.3 613.5 1121.4 612.1 1124 612 C1126.5 611.8 1128.6 613 1131.6 613.2 C1134.6 613.4 1138.8 613.4 1141.8 613.2 C1144.7 613.1 1146.9 612.8 1149.4 612.5 C1152 612.2 1154.1 612.8 1157 611.5 C1160 610.1 1163.8 607.4 1167.2 604.3 C1170.6 601.2 1174.4 596.1 1177.4 592.9 C1180.4 589.7 1182.1 588.6 1185 585.2 C1188 581.8 1191.8 576.5 1195.2 572.5 C1198.6 568.5 1202 564.7 1205.4 561.1 C1208.8 557.5 1212.2 554.1 1215.6 550.9 C1219 547.7 1222.8 544.3 1225.8 542 C1228.7 539.7 1230.4 538.2 1233.4 536.9 C1236.4 535.6 1240.2 535 1243.6 534.4 C1247 533.7 1250.8 533.3 1253.7 533.1 C1256.7 532.9 1258.8 532.9 1261.4 533.1 C1263.9 533.3 1266.5 534.1 1269 534.4 C1271.6 534.6 1274.1 534.4 1276.6 534.4 C1279.2 534.3 1282.1 534.1 1284.3 533.8 C1286.4 533.5 1288.7 532.8 1289.6 532.6" stroke="#e6f23a" stroke-width="1.3"/>
<path d="M10.6 618.3 L12.5 610.7 L18 622.1 L23.6 647.6 L29.1 655.2 L34.6 662.8 L40.2 665.9 L45.7 666.7 L51.2 638.7 L56.7 626 L62.3 617.6 L67.8 608.9 L73.3 589.1 L78.9 628 L84.4 625.2 L89.9 623.9 L95.5 623.2 L101 617.6 L106.5 622.6 L112 619.6 L117.6 616.5 L123.1 626 L128.6 625.2 L134.2 609.4 L139.7 594.1 L145.2 581.4 L150.8 604.3 L156.3 620.4 L161.8 618.3 L167.3 622.1 L172.9 649.6 L178.4 644.3 L183.9 628 L189.5 632.8 L195 630.3 L200.5 620.9 L206.1 627.2 L211.6 634.9 L217.1 622.1 L222.6 604.3 L228.2 615 L233.7 617 L239.2 609.4 L244.8 601.8 L250.3 596.7 L255.8 586.5 L261.4 605.1 L266.9 596.7 L272.4 585.2 L277.9 578.4 L283.5 587.3 L289 585.2 L294.5 566.7 L300.1 561.1 L305.6 562.8 L311.1 556.5 L316.7 581.4 L322.2 571.2 L327.7 574.3 L333.2 559 L338.8 557.3 L344.3 552.2 L349.8 540.2 L355.4 533.1 L360.9 543.8 L366.4 542 L371.9 528 L377.5 537.7 L383 535.1 L388.5 528.5 L394.1 567.9 L399.6 561.1 L405.1 549.6 L410.7 550.4 L416.2 548.3 L421.7 551.4 L427.2 545.3 L432.8 577.1 L438.3 577.6 L443.8 604.8 L449.4 616.5 L454.9 596.7 L460.4 586 L466 585.8 L471.5 591.1 L477 592.9 L482.6 606.9 L488.1 592.9 L493.6 581.4 L499.1 559.8 L504.7 562.3 L510.2 555.5 L515.7 545.3 L521.3 540.7 L526.8 543.3 L532.3 561.1 L537.9 571.2 L543.4 567.4 L548.9 568.2 L554.4 552.2 L560 542 L565.5 530.5 L571 539.4 L576.6 533.8 L582.1 549.6 L587.6 601.8 L593.1 628.5 L598.7 628 L604.2 585.2 L609.7 562.3 L615.3 550.4 L620.8 561.8 L626.3 558 L631.9 538.2 L637.4 545 L642.9 531.3 L648.5 550.9 L654 580.9 L659.5 570 L665 578.9 L670.6 574.3 L676.1 584 L681.6 594.1 L687.2 607.4 L692.7 606.4 L698.2 584 L703.8 566.7 L709.3 587 L714.8 601.8 L720.3 597.5 L725.9 619.6 L731.4 616.3 L736.9 632.3 L742.5 617.6 L748 625.4 L753.5 618.3 L759.1 604.8 L764.6 599.7 L770.1 604.8 L775.6 590.8 L781.2 595.4 L786.7 607.4 L792.2 610.7 L797.8 603.1 L803.3 611.5 L808.8 589.1 L814.4 597.2 L819.9 592.9 L825.4 599.2 L830.9 612 L836.5 608.1 L842 608.9 L847.5 598 L853.1 587.8 L858.6 578.4 L864.1 596.2 L869.7 595.4 L875.2 602.5 L880.7 602.3 L886.2 603.1 L891.8 603.1 L897.3 622.6 L902.8 618.8 L908.4 620.4 L913.9 641.2 L919.4 627.2 L925 612 L930.5 605.6 L936 618.8 L941.5 613.7 L947.1 615.8 L952.6 629.3 L958.1 623.4 L963.7 618.3 L969.2 603.6 L974.7 610.7 L980.2 619.1 L985.8 608.1 L991.3 612.5 L996.8 606.9 L1002.4 585.2 L1007.9 572.5 L1013.4 597.2 L1019 606.9 L1024.5 622.1 L1030 631 L1035.6 625.2 L1041.1 645.5 L1046.6 637.4 L1052.1 605.6 L1057.7 602.3 L1063.2 599.2 L1068.7 604.3 L1074.3 594.1 L1079.8 592.9 L1085.3 620.1 L1090.9 618.3 L1096.4 614 L1101.9 623.9 L1107.4 623.9 L1113 625.4 L1118.5 634.1 L1124 615 L1129.6 620.1 L1135.1 602.5 L1140.6 605.6 L1146.2 591.6 L1151.7 589.8 L1157.2 579.4 L1162.7 566.7 L1168.3 557.3 L1173.8 539.9 L1179.3 533.6 L1184.9 543.3 L1190.4 533.1 L1195.9 523.7 L1201.5 530 L1207 527.2 L1212.5 532.3 L1218 530 L1223.6 522.4 L1229.1 520.4 L1234.6 543.3 L1240.2 554.7 L1245.7 543.8 L1251.2 529.3 L1256.8 526.2 L1262.3 545.3 L1267.8 542 L1273.3 539.4 L1278.9 524.7 L1284.4 519.8 L1289.9 515.3" stroke="#9d55c4" stroke-width="1.2"/>
</g>
<line x1="10.5" y1="495.0" x2="1420.5" y2="495.0" stroke="#e0e3eb" stroke-width="1.3"/>
<rect x="10.5" y="28.5" width="1410.0" height="695.0" fill="none" stroke="#ebecf0" stroke-width="1"/>
<g fill="#131722" font-size="12.5" letter-spacing="0.7">
<text x="1355.8" y="100.7">3,800.00</text>
<text x="1355.8" y="151.4">3,600.00</text>
<text x="1355.8" y="202.2">3,400.00</text>
<text x="1355.8" y="252.9">3,200.00</text>
<text x="1355.8" y="303.7">3,000.00</text>
<text x="1355.8" y="354.4">2,800.00</text>
<text x="1355.8" y="405.2">2,600.00</text>
<text x="1355.8" y="455.9">2,400.00</text>
<text x="1355.8" y="557.6">70.00</text>
<text x="1355.8" y="588.5">60.00</text>
<text x="1355.8" y="619.5">50.00</text>
<text x="1355.8" y="650.4">40.00</text>
<text x="1355.8" y="681.3">30.00</text>
</g>
<path d="M1347 65.9H1412.9a2 2 0 0 1 2 2V81.9a2 2 0 0 1 -2 2H1347z" fill="#089981"/>
<text x="1355.8" y="78.7" fill="#fff" font-size="12.5" letter-spacing="0.7">3,888.16</text>
<path d="M1347 113.3H1412.9a2 2 0 0 1 2 2V128.9a2 2 0 0 1 -2 2H1347z" fill="#4caf50"/>
<text x="1355.8" y="125.9" fill="#fff" font-size="12.5" letter-spacing="0.7">3,700.23</text>
<path d="M1347 163.1H1412.9a2 2 0 0 1 2 2V178.7a2 2 0 0 1 -2 2H1347z" fill="#000"/>
<text x="1355.8" y="175.7" fill="#fff" font-size="12.5" letter-spacing="0.7">3,504.19</text>
<path d="M1347 185.1H1412.9a2 2 0 0 1 2 2V200.7a2 2 0 0 1 -2 2H1347z" fill="#f23645"/>
<text x="1355.8" y="197.7" fill="#fff" font-size="12.5" letter-spacing="0.7">3,419.92</text>
<path d="M1347 242.2H1412.9a2 2 0 0 1 2 2V257.8a2 2 0 0 1 -2 2H1347z" fill="#ffeb3b"/>
<text x="1355.8" y="254.8" fill="#000" font-size="12.5" letter-spacing="0.7">3,192.91</text>
<path d="M1347 507H1393.6a2 2 0 0 1 2 2V522.6a2 2 0 0 1 -2 2H1347z" fill="#9d55c4"/>
<text x="1355.8" y="519.6" fill="#fff" font-size="12.5" letter-spacing="0.7">82.36</text>
<path d="M1347 524.5H1393.6a2 2 0 0 1 2 2V540.1a2 2 0 0 1 -2 2H1347z" fill="#e9fb35"/>
<text x="1355.8" y="538" fill="#000" font-size="12.5" letter-spacing="0.7">76.81</text>
<rect x="1350.5" y="32.5" width="66" height="27" rx="4.5" fill="#fff" stroke="#eef0f3" stroke-width="1"/>
<text x="1359.7" y="49.8" font-size="12.2" letter-spacing="0.1" fill="#131722">USD</text>
<g font-size="13" stroke-width="0.15">
<text y="48.8" fill="#131722"><tspan x="19.3" textLength="26" lengthAdjust="spacingAndGlyphs">Gold</tspan> <tspan x="49.1">·</tspan> <tspan x="57" textLength="14.3" lengthAdjust="spacingAndGlyphs">1D</tspan> <tspan x="74.7">·</tspan> <tspan x="82.6" textLength="68.3" lengthAdjust="spacingAndGlyphs">Capital.com</tspan></text>
<text x="159" y="48.8" textLength="60.9" lengthAdjust="spacingAndGlyphs"><tspan fill="#131722">O</tspan><tspan fill="#089981">3,859.35</tspan></text>
<text x="228" y="48.8" textLength="61.3" lengthAdjust="spacingAndGlyphs"><tspan fill="#131722">H</tspan><tspan fill="#089981">3,889.09</tspan></text>
<text x="296.9" y="48.8" textLength="57.8" lengthAdjust="spacingAndGlyphs"><tspan fill="#131722">L</tspan><tspan fill="#089981">3,853.37</tspan></text>
<text x="362.3" y="48.8" textLength="59.3" lengthAdjust="spacingAndGlyphs"><tspan fill="#131722">C</tspan><tspan fill="#089981">3,888.16</tspan></text>
<text x="428.7" y="48.8" fill="#089981" textLength="97.1" lengthAdjust="spacingAndGlyphs">+29.78 (+0.77%)</text>
</g>
<g font-size="12.8" fill="#131722" text-anchor="middle">
<text x="106" y="714.8">Dec</text>
<text x="222.6" y="714.8" font-weight="bold" letter-spacing="1.1">2025</text>
<text x="343.8" y="714.8">Feb</text>
<text x="454.4" y="714.8">Mar</text>
<text x="570.5" y="714.8">Apr</text>
<text x="686.7" y="714.8">May</text>
<text x="808.3" y="714.8">Jun</text>
<text x="924.5" y="714.8">Jul</text>
<text x="1051.6" y="714.8">Aug</text>
<text x="1167.8" y="714.8">Sep</text>
<text x="1289.4" y="714.8">Oct</text>
</g>
<path d="M1299.5 478.5A10.1 10.1 0 1 1 1293 472" fill="none" stroke="#9c27b0" stroke-width="1.5" stroke-linecap="round"/>
<path d="M1292.8 476L1285.5 482.3L1289.5 482.3L1286.6 487.2L1294.3 480.9L1290.3 480.9z" fill="#9c27b0" stroke="#9c27b0" stroke-width="0.6" stroke-linejoin="round"/>
<circle cx="1296.9" cy="474.6" r="2.6" fill="#f23645"/>
<g transform="translate(12.4,743) scale(0.856)" fill="#1e1e1e"><path d="M14 22H7V11H0V4h14v18zM28 22h-8l7.5-18h8L28 22z"/><circle cx="20" cy="8" r="4"/></g>
<text x="51.2" y="761.7" font-size="20.7" font-weight="bold" fill="#131313" textLength="123.6" lengthAdjust="spacingAndGlyphs">TradingView</text>
<g id="wm">
<path fill-rule="evenodd" fill="#fff" fill-opacity="0.42" stroke="#ededf0" stroke-width="0.7" d="M0 666A49 49 0 0 1 49 617A49 49 0 0 1 98 666A49 49 0 0 1 49 715H31.5V741A13 13 0 0 0 44.5 754H74L83 766Q62 792 41 786H0Z M49 647.5a17 17 0 0 1 0 34h-17v-17a17 17 0 0 1 17 -17z"/>
<path fill="#fff" fill-opacity="0.42" stroke="#ededf0" stroke-width="0.7" d="M116 556H133.3a8 8 0 0 1 8 8V668a15 15 0 0 0 15 15H193V713.5H141a30.5 30.5 0 0 1 -30.5 -30.5V561.5a5.5 5.5 0 0 1 5.5 -5.5Z"/>
<path fill="#fff" fill-opacity="0.42" d="M193 683H196A48.6 48.6 0 0 0 241.3 713.5H193Z"/>
<path fill="#fff" fill-opacity="0.42" stroke="#ededf0" stroke-width="0.7" d="M219.2 561.6a16.6 16.6 0 0 1 16.6 16.6v16.6h-16.6a16.6 16.6 0 0 1 0 -33.2z"/>
<path fill="#fff" fill-opacity="0.42" stroke="#ededf0" stroke-width="0.7" d="M257.5 561.6a16.6 16.6 0 0 1 16.6 16.6v16.6h-16.6a16.6 16.6 0 0 1 0 -33.2z"/>
<path fill="#fff" fill-opacity="0.42" stroke="#ededf0" stroke-width="0.7" d="M305 557H323.5a6 6 0 0 1 6 6V752a34 34 0 0 1 -34 34H262V760H281a18 18 0 0 0 18 -18V563a6 6 0 0 1 6 -6Z"/>
<path fill="none" stroke="#f0f0f3" stroke-width="0.7" d="M192 724A62 62 0 0 0 254 786M329.5 756H357.5V786"/>
<path fill-rule="evenodd" fill="#eac015" fill-opacity="0.38" d="M241.3 617.2A49 49 0 0 1 290.3 666.2V713.5H241.3A48.6 48.6 0 0 1 192.3 666.2A49 49 0 0 1 241.3 617.2Z M241.3 647.9a17.4 17.4 0 1 0 0 34.8h17.4v-17.4a17.4 17.4 0 0 0 -17.4 -17.4z"/>
<path fill="#eac015" fill-opacity="0.38" d="M326.5 572.6C321 566.5 305.5 568 305 584.7H302.2V593.3H326.5V584.7H314C314 577 321 575.5 326.5 578.2Z"/>
<path d="M85.4 739.6a6 6 0 0 1 6 -6H194.8a6 6 0 0 1 6 6V766.3H85.4z" fill="#eac015" fill-opacity="0.38"/>
<text x="95.8" y="759.4" font-size="29" fill="#a3abc4" style="mix-blend-mode:darken" textLength="98" lengthAdjust="spacingAndGlyphs">ARQAM</text>
</g>
</svg>
</body></html>
